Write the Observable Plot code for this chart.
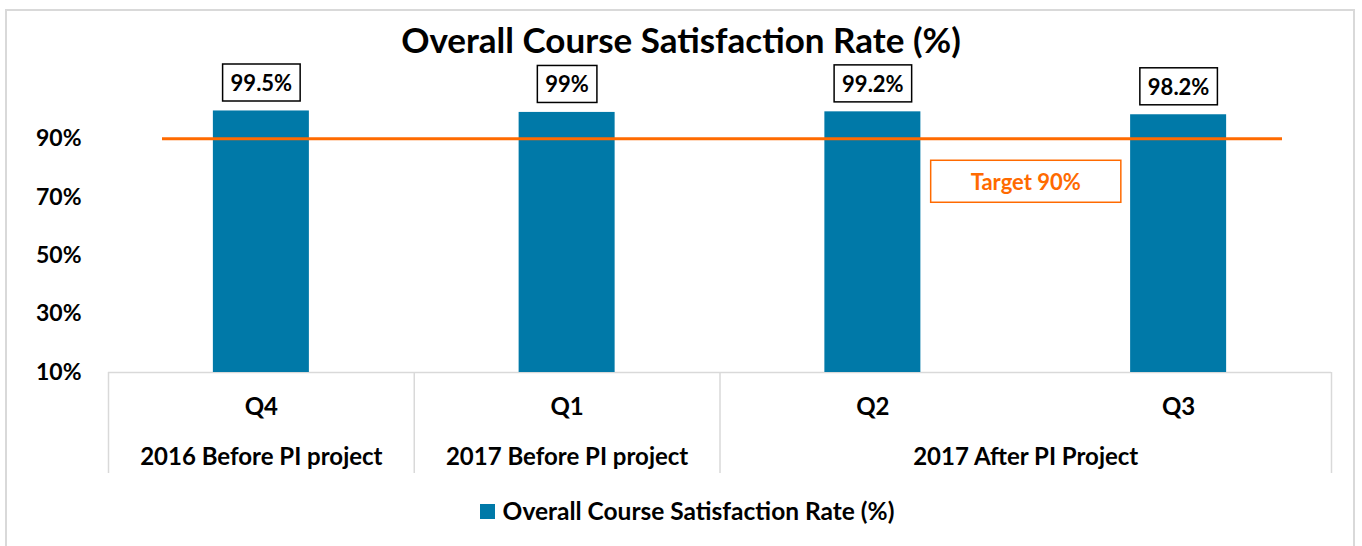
<!DOCTYPE html>
<html>
<head>
<meta charset="utf-8">
<script src="https://cdn.jsdelivr.net/npm/d3@7"></script>
<script src="https://cdn.jsdelivr.net/npm/@observablehq/plot@0.6"></script>
<style>
  html, body { margin: 0; padding: 0; background: #fff; }
  #wrap { position: relative; width: 1362px; height: 546px; overflow: hidden; font-family: Lato, "Open Sans", sans-serif; font-weight: bold; color: #000; }
  #frame { position: absolute; left: 5px; top: 9px; width: 1350px; height: 545px; border: 2px solid #d9d9d9; box-sizing: border-box; }
  #title { position: absolute; left: 0; top: 19px; width: 100%; text-align: center; font-size: 35px; line-height: 40px; }
  #chart { position: absolute; left: 0; top: 0; }
  #legend { position: absolute; left: 6px; top: 496px; width: 100%; display: flex; justify-content: center; align-items: center; font-size: 24.5px; line-height: 30px; }
  #legend .sw { width: 15px; height: 15px; margin-right: 8px; }
</style>
</head>
<body>
<div id="wrap">
  <div id="frame"></div>
  <div id="title"></div>
  <div id="chart"></div>
  <div id="legend"></div>
</div>
<script>
// ---- data ----
const chartTitle = "Overall Course Satisfaction Rate (%)";
const seriesName = "Overall Course Satisfaction Rate (%)";
const quarters = ["Q4", "Q1", "Q2", "Q3"];
const satisfaction = [99.5, 99, 99.2, 98.2];
const groupLabels = ["2016 Before PI project", "2017 Before PI project", "2017 After PI Project"];
const groupStart = [0, 1, 2];
const groupEnd = [1, 2, 4];
const yTicks = [10, 30, 50, 70, 90];
const targetValue = 90;
const targetLabel = "Target 90%";

// ---- styles ----
const BLUE = "#0079a8";
const ORANGE = "#ff6a00";
const GRID = "#d9d9d9";
const FONT = "Lato, 'Open Sans', sans-serif";
const BAR = 0.314;

const rows = quarters.map((q, i) => ({q, i, v: satisfaction[i]}));
const groups = groupLabels.map((g, k) => ({g, s: groupStart[k], e: groupEnd[k]}));
const separators = Array.from(new Set(groups.flatMap(d => [d.s, d.e])));
const valueText = d => d.v + "%";

document.getElementById("title").textContent = chartTitle;
document.getElementById("legend").innerHTML =
  `<div class="sw" style="background:${BLUE}"></div><span>${seriesName}</span>`;

const plot = Plot.plot({
  width: 1362,
  height: 480,
  marginLeft: 108,
  marginRight: 31,
  marginTop: 109,
  marginBottom: 108,
  style: {fontFamily: FONT, background: "transparent", overflow: "visible", color: "#000"},
  x: {type: "linear", domain: [0, quarters.length], axis: null},
  y: {domain: [10, 100], axis: null, label: null},
  marks: [
    Plot.ruleY([10], {stroke: GRID, strokeWidth: 1.5}),
    Plot.ruleX(separators, {x: d => d, stroke: GRID, strokeWidth: 1.5, insetTop: 263, insetBottom: -101}),
    Plot.rectY(rows, {x1: d => d.i + 0.5 - BAR / 2, x2: d => d.i + 0.5 + BAR / 2, y1: 10, y2: "v", fill: BLUE}),
    Plot.ruleY([targetValue], {stroke: ORANGE, strokeWidth: 3, insetLeft: 54, insetRight: 49}),
    Plot.axisY({ticks: yTicks, label: null, tickSize: 0, tickPadding: 27, tickFormat: d => d + "%", fontSize: 23, fontWeight: "bold", fill: "#000"}),
    Plot.text(rows, {x: d => d.i + 0.5, y: 10, text: "q", dy: 35, fontSize: 24, fontWeight: "bold", fill: "#000"}),
    Plot.text(groups, {x: d => (d.s + d.e) / 2, y: 10, text: "g", dy: 85, fontSize: 24, fontWeight: "bold", fill: "#000"}),
    Plot.text(rows, {x: d => d.i + 0.5, y: "v", text: valueText, dy: -27, fontSize: 22, fontWeight: "bold", fill: "#000"}),
    Plot.text([targetLabel], {x: [quarters.length - 1], y: [targetValue], text: d => d, dy: 44, fontSize: 22, fontWeight: "bold", fill: ORANGE})
  ]
});
document.getElementById("chart").appendChild(plot);

function boxify(labels, padX, h, stroke, strokeWidth) {
  const set = new Set(labels);
  plot.querySelectorAll("text").forEach(t => {
    if (!set.has(t.textContent)) return;
    const b = t.getBBox();
    const r = document.createElementNS("http://www.w3.org/2000/svg", "rect");
    const cy = b.y + b.height / 2;
    r.setAttribute("x", b.x - padX);
    r.setAttribute("y", cy - h / 2);
    r.setAttribute("width", b.width + 2 * padX);
    r.setAttribute("height", h);
    r.setAttribute("fill", "#fff");
    r.setAttribute("stroke", stroke);
    r.setAttribute("stroke-width", strokeWidth);
    const tr = t.getAttribute("transform");
    if (tr) r.setAttribute("transform", tr);
    t.parentNode.insertBefore(r, t);
  });
}
boxify(rows.map(valueText), 8, 37, "#000", 1.5);
boxify([targetLabel], 40, 42, ORANGE, 1.5);
</script>
</body>
</html>
